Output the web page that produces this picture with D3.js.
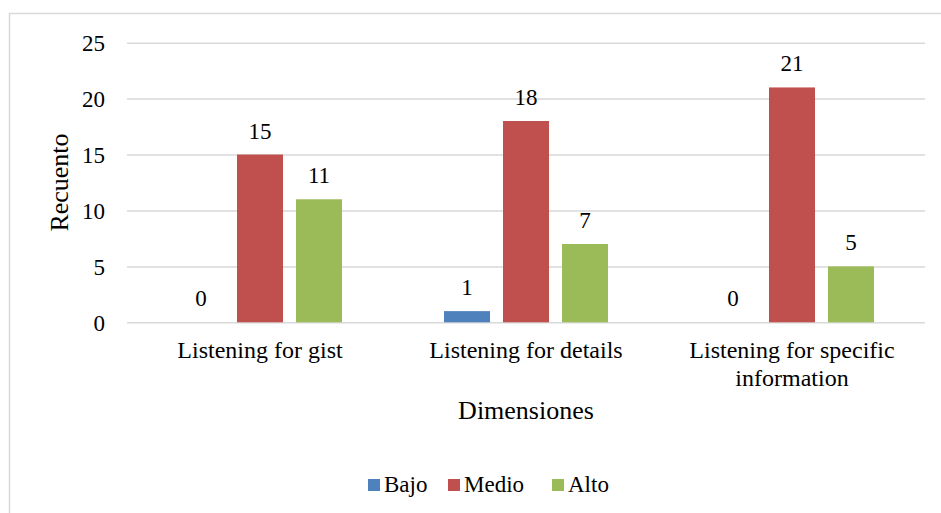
<!DOCTYPE html>
<html><head><meta charset="utf-8"><script src="https://cdn.jsdelivr.net/npm/d3@7"></script></head>
<body style="margin:0">
<svg id="chart" width="941" height="513"></svg>
<script>
const categories = [["Listening for gist"], ["Listening for details"], ["Listening for specific", "information"]];
const seriesNames = ["Bajo", "Medio", "Alto"];
const bajo = [0, 1, 0];
const medio = [15, 18, 21];
const alto = [11, 7, 5];
const yTicks = [0, 5, 10, 15, 20, 25];
const colors = ["#4F81BD", "#C0504D", "#9BBB59"];
const xTitle = "Dimensiones";
const yTitle = "Recuento";

const FONT = '"Liberation Serif"';
const seriesValues = [bajo, medio, alto];
const svg = d3.select("#chart");

function txt(sel, size) {
  return sel.attr("font-size", size).attr("fill", "#000").style("font-family", FONT);
}

// chart border
svg.append("rect").attr("x", 9.5).attr("y", 13.5).attr("width", 1000).attr("height", 1000)
  .attr("fill", "none").attr("stroke", "#D9D9D9").attr("stroke-width", 1.5);

const plotL = 127, plotR = 925, plotT = 42.7, plotB = 322.3;
const catKeys = categories.map((c, i) => i);
const x = d3.scaleBand().domain(catKeys).range([plotL, plotR]).paddingInner(0).paddingOuter(0);
const xInner = d3.scaleBand().domain(seriesNames).range([51, x.bandwidth() - 51]).paddingInner(0.22).paddingOuter(0);
const y = d3.scaleLinear().domain([0, 25]).range([plotB, plotT]);

// gridlines + y tick labels
const yAxis = d3.axisLeft(y).tickValues(yTicks).tickSize(-(plotR - plotL)).tickPadding(22);
const gy = svg.append("g").attr("transform", `translate(${plotL},0)`).call(yAxis);
gy.attr("font-family", null).attr("font-size", null);
gy.select(".domain").remove();
gy.selectAll(".tick line").attr("stroke", "#D9D9D9").attr("stroke-width", 1.5);
txt(gy.selectAll(".tick text"), 23).attr("dy", "0.34em");

// bars
const groups = svg.append("g").selectAll("g").data(seriesNames).join("g")
  .attr("fill", (d, i) => colors[i]);
groups.each(function(s, si) {
  d3.select(this).selectAll("rect").data(seriesValues[si]).join("rect")
    .attr("x", (v, ci) => x(ci) + xInner(s))
    .attr("width", xInner.bandwidth())
    .attr("y", v => y(v))
    .attr("height", v => y(0) - y(v));
});

// value labels
seriesNames.forEach((s, si) => {
  txt(svg.append("g").selectAll("text").data(seriesValues[si]).join("text"), 23)
    .attr("x", (v, ci) => x(ci) + xInner(s) + xInner.bandwidth() / 2)
    .attr("y", v => y(v) - 16)
    .attr("text-anchor", "middle")
    .text(v => v);
});

// category labels
categories.forEach((lines, ci) => {
  const t = txt(svg.append("text"), 24).attr("text-anchor", "middle");
  lines.forEach((ln, li) => {
    t.append("tspan").attr("x", x(ci) + x.bandwidth() / 2).attr("y", 358 + li * 27.5).text(ln);
  });
});

// axis titles
txt(svg.append("text"), 26).attr("x", (plotL + plotR) / 2).attr("y", 419).attr("text-anchor", "middle").text(xTitle);
txt(svg.append("text"), 26).attr("transform", `translate(68,${(plotT + plotB) / 2}) rotate(-90)`)
  .attr("text-anchor", "middle").text(yTitle);

// legend
const legendX = [368, 448, 552];
const legend = svg.append("g");
seriesNames.forEach((s, i) => {
  legend.append("rect").attr("x", legendX[i]).attr("y", 479).attr("width", 12).attr("height", 12).attr("fill", colors[i]);
  txt(legend.append("text"), 23).attr("x", legendX[i] + 16).attr("y", 492).text(s);
});
</script>
</body>
</html>
